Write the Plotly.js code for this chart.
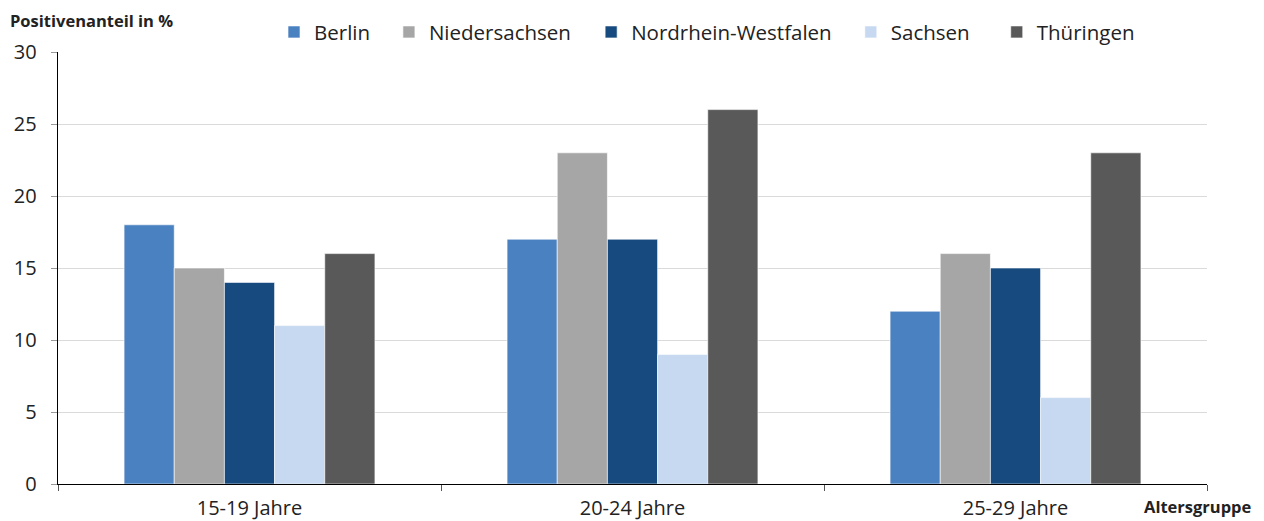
<!DOCTYPE html>
<html><head><meta charset="utf-8">
<script src="https://cdn.plot.ly/plotly-3.0.1.min.js"></script>
<style>body{margin:0;background:#fff}#c{width:1264px;height:521px}</style>
</head><body><div id="c"></div>
<script>
const categories = ["15-19 Jahre", "20-24 Jahre", "25-29 Jahre"];
const seriesNames = ["Berlin", "Niedersachsen", "Nordrhein-Westfalen", "Sachsen", "Thüringen"];
const berlin = [18, 17, 12];
const niedersachsen = [15, 23, 16];
const nrw = [14, 17, 15];
const sachsen = [11, 9, 6];
const thueringen = [16, 26, 23];
const colors = ["#4a81c0", "#a6a6a6", "#174a7e", "#c6d9f0", "#595959"];
const values = [berlin, niedersachsen, nrw, sachsen, thueringen];
const yTicks = [0, 5, 10, 15, 20, 25, 30];
const legendX = [0.188, 0.288, 0.464, 0.690, 0.817];

const font = "Open Sans, Lato, sans-serif";
const legendIds = ["legend", "legend2", "legend3", "legend4", "legend5"];
const traces = values.map((v, i) => ({
  type: "bar", x: categories, y: v, name: seriesNames[i], legend: legendIds[i],
  marker: {color: colors[i], line: {color: "rgba(255,255,255,0.6)", width: 1}},
  hoverinfo: "skip"
}));

const layout = {
  width: 1264, height: 521,
  margin: {l: 58, r: 57, t: 52, b: 37, autoexpand: false},
  paper_bgcolor: "#fff", plot_bgcolor: "#fff",
  barmode: "group", bargap: 0.345, bargroupgap: 0,
  font: {family: font, size: 20, color: "#222"},
  showlegend: true,
  xaxis: {type: "category", showline: true, linecolor: "#000", linewidth: 1.3,
    ticks: "outside", tickson: "boundaries", ticklen: 6, tickcolor: "#555",
    ticklabelstandoff: 6, tickfont: {family: font, size: 20, color: "#222"},
    showgrid: false, zeroline: false},
  yaxis: {range: [0, 30], tickvals: yTicks, showline: true, linecolor: "#000", linewidth: 1.3,
    ticks: "outside", ticklen: 6, tickcolor: "#999", ticklabelstandoff: 10,
    gridcolor: "#dadada", gridwidth: 1, zeroline: false,
    tickfont: {family: font, size: 20, color: "#222"}},
  annotations: [
    {text: "<b>Positivenanteil in %</b>", xref: "paper", yref: "paper", x: -0.0435, y: 1.074,
      xanchor: "left", yanchor: "middle", showarrow: false, font: {family: font, size: 16.5, color: "#222"}},
    {text: "<b>Altersgruppe</b>", xref: "paper", yref: "paper", x: 1.041, y: -0.053,
      xanchor: "right", yanchor: "middle", showarrow: false, font: {family: font, size: 16.5, color: "#222"}}
  ]
};
legendIds.forEach((id, i) => {
  layout[id] = {orientation: "h", x: legendX[i], xanchor: "left", y: 1.046, yanchor: "middle",
    font: {family: font, size: 20.5, color: "#222"}, itemwidth: 30, bgcolor: "rgba(0,0,0,0)"};
});
Plotly.newPlot("c", traces, layout, {displayModeBar: false, staticPlot: true});
</script></body></html>
